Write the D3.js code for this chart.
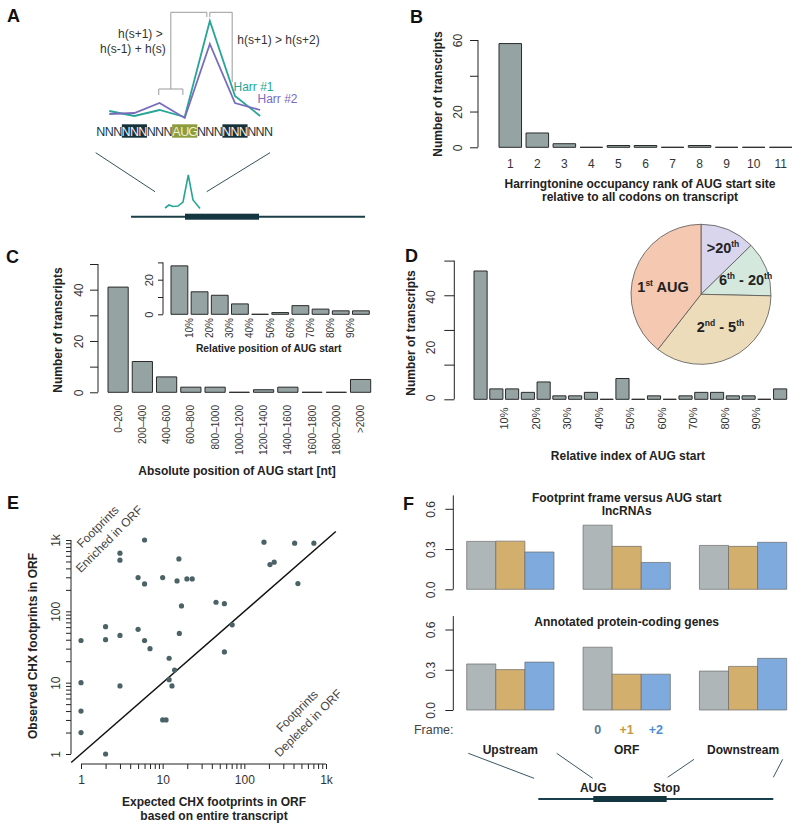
<!DOCTYPE html>
<html><head><meta charset="utf-8">
<script src="https://cdn.jsdelivr.net/npm/d3@7"></script>
<style>body{margin:0;background:#fff} svg{display:block} text{font-family:"Liberation Sans",Arial,Helvetica,sans-serif}</style>
</head><body><svg id="chart" width="800" height="830"></svg>
<script>
// ---------------- DATA ----------------
// Panel A: harringtonine profile around an AUG (7 codons)
const codonLabels = ["NNN","NNN","NNN","AUG","NNN","NNN","NNN"];
const codonHighlight = ["none","dark","none","aug","none","dark","none"];
const harr1 = [14, 9, 15, 8, 104, 29, 9];
const harr2 = [11, 12, 22, 7, 81, 22, 15];
const miniPos = [0, 4, 8, 13, 18, 23.3, 28, 35];
const miniHeight = [1, 4, 2.5, 3, 7, 34, 9, 0.5];

// Panel B
const rankCategories = ["1","2","3","4","5","6","7","8","9","10","11"];
const rankCounts = [58, 8, 2, 0, 1, 1, 0, 1, 0, 0, 0];
const rankTicks = [0, 20, 40, 60];
const rankTickLabels = [0, 20, 60];

// Panel C
const absPosCategories = ["0\u2013200","200\u2013400","400\u2013600","600\u2013800","800\u20131000","1000\u20131200","1200\u20131400","1400\u20131600","1600\u20131800","1800\u20132000",">2000"];
const absPosCounts = [41, 12, 6, 2, 2, 0, 1, 2, 0, 0, 5];
const relPosCounts = [28, 13, 11, 6, 0, 1, 5, 3, 2, 2];
const relPosLabels = ["10%","20%","30%","40%","50%","60%","70%","80%","90%"];

// Panel D
const relIndexCounts = [37, 3, 3, 2, 5, 1, 1, 2, 0, 6, 0, 1, 0, 1, 2, 2, 1, 1, 0, 3];
const relIndexLabels = ["10%","20%","30%","40%","50%","60%","70%","80%","90%"];
const relIndexTickLabels = [0, 20, 40];
const pieCategories = [">20th", "6th - 20th", "2nd - 5th", "1st AUG"];
const pieCounts = [9, 9, 25, 28];
const pieColors = ["#d9d5ec", "#d5e8de", "#ecdcba", "#f5c8b1"];

// Panel E
const expectedCHX = [6,3,3,174,413,711,15.8,206,232,5,6,10,15,19.8,23,453,17,45,57,71,2,5,1,2,3,6,7,16,57,12,14,12,13,1,3,1,10,11,1,2];
const observedCHX = [1000,653,521,933,902,902,543,452,489,297,242,297,267,285,285,245,119,134,128,64.6,61,56,39,40,46,39,30,49,27,22,15,11,9,10,9,4,3,3,2,1];

// Panel F
const frameRegions = ["Upstream","ORF","Downstream"];
const frames = ["0","+1","+2"];
const frameColors = ["#aeb6b8","#d3af6d","#7faadd"];
const frameLabelColors = ["#5b7892","#c69a3c","#4b8fd6"];
const lncFrame0 = [0.357, 0.478, 0.327];
const lncFrame1 = [0.359, 0.320, 0.320];
const lncFrame2 = [0.278, 0.200, 0.350];
const pcFrame0 = [0.343, 0.468, 0.290];
const pcFrame1 = [0.301, 0.267, 0.325];
const pcFrame2 = [0.357, 0.267, 0.385];

// ---------------- HELPERS ----------------
const svg = d3.select("#chart");
const FONT = '"Liberation Sans", Arial, Helvetica, sans-serif';
const BAR_FILL = "#95a3a3", BAR_STROKE = "#2a2a2a", TXT = "#222";

function txt(g, x, y, s, o = {}) {
  const t = g.append("text").attr("x", x).attr("y", y).text(s)
    .attr("font-size", o.size || 12).attr("fill", o.fill || TXT)
    .attr("text-anchor", o.anchor || "middle");
  if (o.bold) t.attr("font-weight", "bold");
  if (o.rotate != null) t.attr("transform", `rotate(${o.rotate},${x},${y})`);
  return t;
}
function yAxisR(g, scale, x, tickVals, labelVals, fmt, o) {
  const ax = d3.axisLeft(scale).tickValues(tickVals).tickSize(o.tick).tickSizeOuter(0)
    .tickFormat(d => labelVals.includes(d) ? fmt(d) : "");
  const ag = g.append("g").attr("transform", `translate(${x},0)`).call(ax);
  ag.select(".domain").remove();
  ag.selectAll(".tick line").attr("stroke", "#222");
  ag.selectAll(".tick text").attr("x", null).attr("dy", null).attr("text-anchor", "middle")
    .attr("transform", `translate(${-o.off},0) rotate(-90)`)
    .attr("font-size", o.fs || 12).attr("fill", "#333").attr("font-family", FONT);
  const top = o.top != null ? o.top : d3.max(tickVals);
  g.append("line").attr("x1", x).attr("x2", x).attr("y1", scale(tickVals[0])).attr("y2", scale(top)).attr("stroke", "#222");
}
function bars(g, xb, y, cats, vals, fill, stroke, sw) {
  g.append("g").selectAll("path").data(cats).join("path")
    .attr("d", (c, i) => { const x0 = xb(c), w = xb.bandwidth(), y0 = y(0), y1 = y(vals[i]);
      return `M${x0},${y0}H${x0 + w}V${y1}H${x0}Z`; })
    .attr("fill", fill).attr("stroke", stroke || BAR_STROKE).attr("stroke-width", sw || 1);
}
function panelLabel(t, x, y) { txt(svg, x, y, t, { size: 18, bold: true, anchor: "start", fill: "#111" }); }

// ---------------- PANEL A ----------------
const gA = svg.append("g");
panelLabel("A", 7, 22);
const codonX = d3.scaleBand().domain(d3.range(codonLabels.length)).range([96.7, 272.7]);
const profY = d3.scaleLinear().domain([0, 100]).range([125, 25]);
const cc = i => codonX(i) + codonX.bandwidth() / 2;
codonLabels.forEach((c, i) => {
  if (codonHighlight[i] !== "none")
    gA.append("rect").attr("x", codonX(i)).attr("y", 124.3).attr("width", codonX.bandwidth()).attr("height", 13.4)
      .attr("fill", codonHighlight[i] === "aug" ? "#8d9c3c" : "#15323b");
  for (let j = 0; j < 3; j++) {
    txt(gA, codonX(i) + (j + 0.5) * codonX.bandwidth() / 3, 136, c[j],
      { size: 12.5, fill: codonHighlight[i] === "none" ? "#1b3842" : (codonHighlight[i] === "aug" ? "#eef2d8" : "#f2f2f2") });
  }
});
const lineA = d3.line().x((d, i) => cc(i)).y(d => profY(d));
gA.append("path").attr("d", lineA(harr1)).attr("fill", "none").attr("stroke", "#27a596").attr("stroke-width", 1.8);
gA.append("path").attr("d", lineA(harr2)).attr("fill", "none").attr("stroke", "#7a6cbc").attr("stroke-width", 1.8);
txt(gA, 233.5, 90.5, "Harr #1", { anchor: "start", fill: "#27a596", size: 12 });
txt(gA, 257.5, 103, "Harr #2", { anchor: "start", fill: "#7a6cbc", size: 12 });
const brC = "#9a9a9a";
const bl = (x1, y1, x2, y2) => gA.append("line").attr("x1", x1).attr("y1", y1).attr("x2", x2).attr("y2", y2).attr("stroke", brC).attr("stroke-width", 1);
const bx1 = cc(2) - 0.8, bx2 = cc(3) - 1.8, bmid = (bx1 + bx2) / 2;
bl(bx1, 89, bx2, 89); bl(bx1, 89, bx1, 95); bl(bx2, 89, bx2, 95);
bl(bmid, 89, bmid, 12.3); bl(bmid, 12.3, cc(4) - 3, 12.3); bl(cc(4) - 3, 12.3, cc(4) - 3, 17);
bl(cc(4) + 0, 12.3, cc(4) + 0, 17); bl(cc(4), 12.3, cc(5) - 2.8, 12.3); bl(cc(5) - 2.8, 12.3, cc(5) - 2.8, 82);
txt(gA, 162.7, 38, "h(s+1) >", { anchor: "end", fill: "#333" });
txt(gA, 165.7, 53, "h(s-1) + h(s)", { anchor: "end", fill: "#333" });
txt(gA, 237.3, 43.5, "h(s+1) > h(s+2)", { anchor: "start", fill: "#333" });
gA.append("line").attr("x1", 95.7).attr("y1", 152.7).attr("x2", 155).attr("y2", 191.7).attr("stroke", "#35525a");
gA.append("line").attr("x1", 270).attr("y1", 152.7).attr("x2", 206.7).attr("y2", 191.7).attr("stroke", "#35525a");
const miniX = d3.scaleLinear().domain([0, 35]).range([165, 200]);
const miniY = d3.scaleLinear().domain([0, 34]).range([209, 175]);
gA.append("path").attr("d", d3.line().x((d, i) => miniX(miniPos[i])).y(d => miniY(d))(miniHeight))
  .attr("fill", "none").attr("stroke", "#27a596").attr("stroke-width", 1.6);
gA.append("line").attr("x1", 131).attr("x2", 365).attr("y1", 216.7).attr("y2", 216.7).attr("stroke", "#1b3e48").attr("stroke-width", 2);
gA.append("rect").attr("x", 185).attr("y", 213.7).attr("width", 74).attr("height", 6).attr("fill", "#143640");

// ---------------- PANEL B ----------------
const gB = svg.append("g");
panelLabel("B", 410, 23.3);
const xB = d3.scaleBand().domain(rankCategories).range([499, 792]).paddingInner(0.2 / 1.2).paddingOuter(0);
const yB = d3.scaleLinear().domain([0, 60]).range([147.3, 40]);
bars(gB, xB, yB, rankCategories, rankCounts, BAR_FILL);
yAxisR(gB, yB, 478, rankTicks, rankTickLabels, d => d, { tick: 8, off: 16 });
rankCategories.forEach(c => txt(gB, xB(c) + xB.bandwidth() / 2, 167.5, c, { size: 12, fill: "#333" }));
txt(gB, 640, 187.5, "Harringtonine occupancy rank of AUG start site", { bold: true, size: 12 });
txt(gB, 640, 201, "relative to all codons on transcript", { bold: true, size: 12 });
txt(gB, 441.5, 94, "Number of transcripts", { bold: true, size: 12, rotate: -90 });

// ---------------- PANEL C ----------------
const gC = svg.append("g");
panelLabel("C", 6, 263.3);
const xC = d3.scaleBand().domain(absPosCategories).range([108, 370.7]).paddingInner(0.2 / 1.2).paddingOuter(0);
const yC = d3.scaleLinear().domain([0, 50]).range([392.3, 264]);
bars(gC, xC, yC, absPosCategories, absPosCounts, BAR_FILL);
yAxisR(gC, yC, 98, [0, 10, 20, 30, 40, 50], [0, 20, 40], d => d, { tick: 8, off: 15 });
absPosCategories.forEach(c => txt(gC, xC(c) + xC.bandwidth() / 2 + 3.5, 405, c, { size: 10, fill: "#333", anchor: "end", rotate: -90 }));
txt(gC, 237, 474.5, "Absolute position of AUG start [nt]", { bold: true, size: 12 });
txt(gC, 61.5, 330, "Number of transcripts", { bold: true, size: 12, rotate: -90 });
const relCats = relPosCounts.map((d, i) => "b" + i);
const xCi = d3.scaleBand().domain(relCats).range([171, 369.3]).paddingInner(0.2 / 1.2).paddingOuter(0);
const yCi = d3.scaleLinear().domain([0, 30]).range([314.3, 262.4]);
bars(gC, xCi, yCi, relCats, relPosCounts, BAR_FILL);
yAxisR(gC, yCi, 163, [0, 10, 20, 30], [0, 20], d => d, { tick: 5, off: 10, fs: 11 });
relPosLabels.forEach((l, i) => {
  const xb = xCi(relCats[i]) + xCi.bandwidth() + (xCi.step() - xCi.bandwidth()) / 2;
  txt(gC, xb + 3.5, 318, l, { size: 10, fill: "#333", anchor: "end", rotate: -90 });
});
txt(gC, 268.7, 351.5, "Relative position of AUG start", { bold: true, size: 10.3 });

// ---------------- PANEL D ----------------
const gD = svg.append("g");
panelLabel("D", 405, 261.7);
const idxCats = relIndexCounts.map((d, i) => "d" + i);
const xD = d3.scaleBand().domain(idxCats).range([474, 786.7]).paddingInner(0.2 / 1.2).paddingOuter(0);
const yD = d3.scaleLinear().domain([0, 40]).range([399.3, 260.6]);
bars(gD, xD, yD, idxCats, relIndexCounts, BAR_FILL);
yAxisR(gD, yD, 454.3, [0, 10, 20, 30, 40], [], d => d, { tick: 10, off: 19 });
// tick labels as printed in the reference (placed on their own label scale)
const yDlab = d3.scaleLinear().domain([0, 40]).range([398, 297]);
relIndexTickLabels.forEach(v => txt(gD, 435, yDlab(v), String(v), { size: 12, fill: "#333", rotate: -90 }));
relIndexLabels.forEach((l, i) => {
  const k = 2 * i + 1;
  const xb = xD(idxCats[k]) + xD.bandwidth() + (xD.step() - xD.bandwidth()) / 2;
  txt(gD, xb + 4, 407.5, l, { size: 11, fill: "#333", anchor: "end", rotate: -90 });
});
txt(gD, 628, 459.5, "Relative index of AUG start", { bold: true, size: 12 });
txt(gD, 414.5, 333, "Number of transcripts", { bold: true, size: 12, rotate: -90 });
const pie = d3.pie().sort(null).startAngle(0).endAngle(2 * Math.PI)(pieCounts);
const arc = d3.arc().innerRadius(0).outerRadius(70);
const gP = gD.append("g").attr("transform", "translate(701,294.3)");
gP.selectAll("path").data(pie).join("path").attr("d", arc)
  .attr("fill", (d, i) => pieColors[i]).attr("stroke", "#555").attr("stroke-width", 0.8);
function supLabel(g, x, y, parts) {
  const t = g.append("text").attr("x", x).attr("y", y).attr("text-anchor", "middle")
    .attr("font-weight", "bold").attr("fill", "#222").attr("font-size", 14.5);
  parts.forEach(p => {
    const s = t.append("tspan").text(p[0]);
    if (p[1]) s.attr("font-size", 8.5).attr("dy", -6); else s.attr("dy", p[2] || 0);
  });
}
supLabel(gD, 663, 292, [["1"], ["st", true], [" AUG", false, 6]]);
supLabel(gD, 723, 253, [[">20"], ["th", true]]);
supLabel(gD, 745.5, 285, [["6"], ["th", true], [" - 20", false, 6], ["th", true]]);
supLabel(gD, 720.5, 332, [["2"], ["nd", true], [" - 5", false, 6], ["th", true]]);

// ---------------- PANEL E ----------------
const gE = svg.append("g");
panelLabel("E", 7, 509.3);
const xE = d3.scaleLog().domain([1, 1000]).range([81, 326]);
const yE = d3.scaleLog().domain([1, 1000]).range([754, 540]);
const logTicks = [];
[1, 10, 100].forEach(p => d3.range(1, 10).forEach(m => logTicks.push(m * p)));
logTicks.push(1000);
const logLab = { 1: "1", 10: "10", 100: "100", 1000: "1k" };
const xAx = gE.append("g").attr("transform", "translate(0,764)")
  .call(d3.axisBottom(xE).tickValues(logTicks).tickSize(5).tickSizeOuter(0).tickFormat(d => logLab[d] || ""));
xAx.select(".domain").remove();
xAx.selectAll(".tick line").attr("stroke", "#222");
xAx.selectAll(".tick text").attr("y", 11).attr("font-size", 12).attr("fill", "#333").attr("font-family", FONT);
gE.append("line").attr("x1", xE(1)).attr("x2", xE(1000)).attr("y1", 764).attr("y2", 764).attr("stroke", "#222");
const yAxE = gE.append("g").attr("transform", "translate(71,0)")
  .call(d3.axisLeft(yE).tickValues(logTicks).tickSize(5).tickSizeOuter(0).tickFormat(d => logLab[d] || ""));
yAxE.select(".domain").remove();
yAxE.selectAll(".tick line").attr("stroke", "#222");
yAxE.selectAll(".tick text").attr("x", null).attr("dy", null).attr("text-anchor", "middle")
  .attr("transform", "translate(-11,0) rotate(-90)").attr("font-size", 12).attr("fill", "#333").attr("font-family", FONT);
gE.append("line").attr("x1", 71).attr("x2", 71).attr("y1", yE(1)).attr("y2", yE(1000)).attr("stroke", "#222");
const lo = Math.pow(10, -0.12), hi = Math.pow(10, 3.12);
gE.append("line").attr("x1", xE(lo)).attr("y1", yE(lo)).attr("x2", xE(hi)).attr("y2", yE(hi)).attr("stroke", "#111").attr("stroke-width", 1.5);
gE.append("g").selectAll("circle").data(expectedCHX).join("circle")
  .attr("cx", d => xE(d)).attr("cy", (d, i) => yE(observedCHX[i])).attr("r", 2.6).attr("fill", "#4b6367");
txt(gE, 100.7, 529.7, "Footprints", { size: 12, fill: "#444", rotate: -45 });
txt(gE, 112, 542, "Enriched in ORF", { size: 12, fill: "#444", rotate: -45 });
txt(gE, 300, 714, "Footprints", { size: 12, fill: "#444", rotate: -45 });
txt(gE, 311, 726, "Depleted in ORF", { size: 12, fill: "#444", rotate: -45 });
txt(gE, 214, 806, "Expected CHX footprints in ORF", { bold: true, size: 12 });
txt(gE, 214, 819.5, "based on entire transcript", { bold: true, size: 12 });
txt(gE, 36.5, 646, "Observed CHX footprints in ORF", { bold: true, size: 12, rotate: -90 });

// ---------------- PANEL F ----------------
const gF = svg.append("g");
panelLabel("F", 403, 510);
const xF = d3.scaleBand().domain(frameRegions).range([466.7, 786.7]).paddingInner(0.25).paddingOuter(0);
const xFi = d3.scaleBand().domain(frames).range([0, xF.bandwidth()]).padding(0);
function frameChart(y0px, f0, f1, f2) {
  const y = d3.scaleLinear().domain([0, 0.6]).range([y0px, y0px - 80.5]);
  const series = [f0, f1, f2];
  frameRegions.forEach((r, ri) => {
    frames.forEach((f, fi) => {
      const x0 = xF(r) + xFi(f), w = xFi.bandwidth();
      gF.append("path").attr("d", `M${x0},${y(0)}H${x0 + w}V${y(series[fi][ri])}H${x0}Z`)
        .attr("fill", frameColors[fi]).attr("stroke", "#6a6a6a").attr("stroke-width", 0.7);
    });
  });
  yAxisR(gF, y, 453.3, [0, 0.3, 0.6], [0, 0.3, 0.6], d => d.toFixed(1), { tick: 8, off: 18, top: 0.7 });
}
frameChart(589.3, lncFrame0, lncFrame1, lncFrame2);
frameChart(710, pcFrame0, pcFrame1, pcFrame2);
txt(gF, 626.7, 501.5, "Footprint frame versus AUG start", { bold: true, size: 12 });
txt(gF, 626.7, 515, "lncRNAs", { bold: true, size: 12 });
txt(gF, 626.7, 625.5, "Annotated protein-coding genes", { bold: true, size: 12 });
txt(gF, 453.5, 733.5, "Frame:", { size: 12.5, fill: "#444", anchor: "end" });
frames.forEach((f, fi) => txt(gF, xF("ORF") + xFi(f) + xFi.bandwidth() / 2, 733.5, f, { size: 12.5, bold: true, fill: frameLabelColors[fi] }));
frameRegions.forEach(r => txt(gF, xF(r) + xF.bandwidth() / 2, 753.5, r, { size: 12, bold: true }));
const lf = (x1, y1, x2, y2) => gF.append("line").attr("x1", x1).attr("y1", y1).attr("x2", x2).attr("y2", y2).attr("stroke", "#3a5862").attr("stroke-width", 1);
lf(468.3, 753.3, 534, 778.3); lf(556.7, 753.3, 592.7, 778.3); lf(694, 759.3, 667.7, 777.3); lf(782.7, 759.3, 773.3, 777.3);
txt(gF, 593.3, 792, "AUG", { bold: true, size: 12 });
txt(gF, 666.7, 792, "Stop", { bold: true, size: 12 });
gF.append("line").attr("x1", 538.3).attr("x2", 773.3).attr("y1", 799).attr("y2", 799).attr("stroke", "#17404c").attr("stroke-width", 2);
gF.append("rect").attr("x", 593.3).attr("y", 796).attr("width", 73.4).attr("height", 6).attr("fill", "#143640");
</script></body></html>
